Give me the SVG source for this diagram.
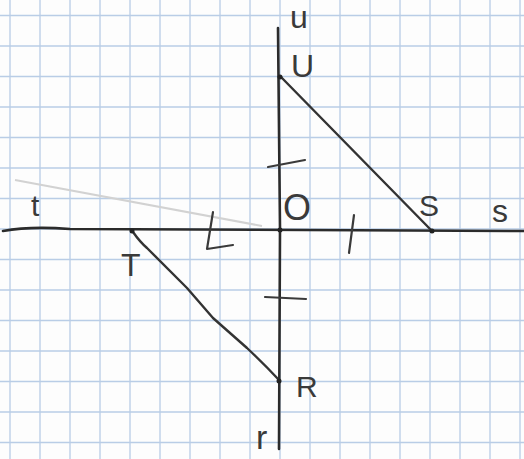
<svg xmlns="http://www.w3.org/2000/svg" width="524" height="459" viewBox="0 0 524 459">
<style>
.grid line{stroke:#b9cde6;stroke-width:1.3}
.ax{fill:none;stroke:#2b2b2b;stroke-width:2.6;stroke-linecap:round;stroke-linejoin:round}
.ln{fill:none;stroke:#333;stroke-width:2.4;stroke-linecap:round;stroke-linejoin:round}
.tk{fill:none;stroke:#3a3a3a;stroke-width:2.2;stroke-linecap:round;stroke-linejoin:round}
.lb{font-family:"Liberation Sans",Arial,sans-serif;fill:#3a3a3a}
.pt{fill:#222}
</style>
<rect width="524" height="459" fill="#fdfdfd"/>
<g class="grid">
<line x1="10" y1="0" x2="10" y2="459"/><line x1="40" y1="0" x2="40" y2="459"/><line x1="70" y1="0" x2="70" y2="459"/><line x1="100" y1="0" x2="100" y2="459"/><line x1="130" y1="0" x2="130" y2="459"/><line x1="160" y1="0" x2="160" y2="459"/><line x1="190" y1="0" x2="190" y2="459"/><line x1="220" y1="0" x2="220" y2="459"/><line x1="250" y1="0" x2="250" y2="459"/><line x1="280" y1="0" x2="280" y2="459"/><line x1="310" y1="0" x2="310" y2="459"/><line x1="340" y1="0" x2="340" y2="459"/><line x1="370" y1="0" x2="370" y2="459"/><line x1="400" y1="0" x2="400" y2="459"/><line x1="430" y1="0" x2="430" y2="459"/><line x1="460" y1="0" x2="460" y2="459"/><line x1="490" y1="0" x2="490" y2="459"/><line x1="520" y1="0" x2="520" y2="459"/>
<line x1="0" y1="15.5" x2="524" y2="15.5"/><line x1="0" y1="46" x2="524" y2="46"/><line x1="0" y1="76.5" x2="524" y2="76.5"/><line x1="0" y1="107" x2="524" y2="107"/><line x1="0" y1="137.5" x2="524" y2="137.5"/><line x1="0" y1="168" x2="524" y2="168"/><line x1="0" y1="198.5" x2="524" y2="198.5"/><line x1="0" y1="229" x2="524" y2="229"/><line x1="0" y1="259.5" x2="524" y2="259.5"/><line x1="0" y1="290" x2="524" y2="290"/><line x1="0" y1="320.5" x2="524" y2="320.5"/><line x1="0" y1="351" x2="524" y2="351"/><line x1="0" y1="381.5" x2="524" y2="381.5"/><line x1="0" y1="412" x2="524" y2="412"/><line x1="0" y1="442.5" x2="524" y2="442.5"/>
</g>
<path d="M15,180 L262,226" fill="none" stroke="#d2d2d2" stroke-width="2"/>
<g id="axes">
<path class="ax" d="M3,231 Q30,226 70,229 L524,231"/>
<path class="ax" d="M278,28 L280,229 L279,449"/>
<path class="tk" d="M268,167 L305,160"/>
<path class="tk" d="M265,297 L306,299"/>
<path class="tk" d="M354,215 L349,253"/>
<path class="tk" d="M213,212 L207,249 L233,245"/>
</g>
<g id="connectors">
<path class="ln" d="M281,77 L432,231"/>
<path class="ln" d="M133,232 Q140,242 147,248 L187,288 L213,318 L247,348 Q265,365 279,380"/>
</g>
<g id="node-O"><circle class="pt" cx="280" cy="230" r="2.5"/><text class="lb" x="283" y="220" font-size="36">O</text></g>
<g id="node-U"><circle class="pt" cx="280" cy="77" r="2.5"/><text class="lb" x="291" y="77" font-size="32">U</text></g>
<g id="node-S"><circle class="pt" cx="432" cy="231" r="2.5"/><text class="lb" x="419" y="216" font-size="30">S</text></g>
<g id="node-T"><circle class="pt" cx="132" cy="231" r="2.5"/><text class="lb" x="121" y="276" font-size="32">T</text></g>
<g id="node-R"><circle class="pt" cx="279" cy="381" r="2.5"/><text class="lb" x="296" y="397" font-size="30">R</text></g>
<g id="labels">
<text class="lb" x="290" y="28" font-size="32">u</text>
<text class="lb" x="31" y="216" font-size="30">t</text>
<text class="lb" x="492" y="222" font-size="32">s</text>
<text class="lb" x="256" y="449" font-size="34">r</text>
</g>
</svg>
